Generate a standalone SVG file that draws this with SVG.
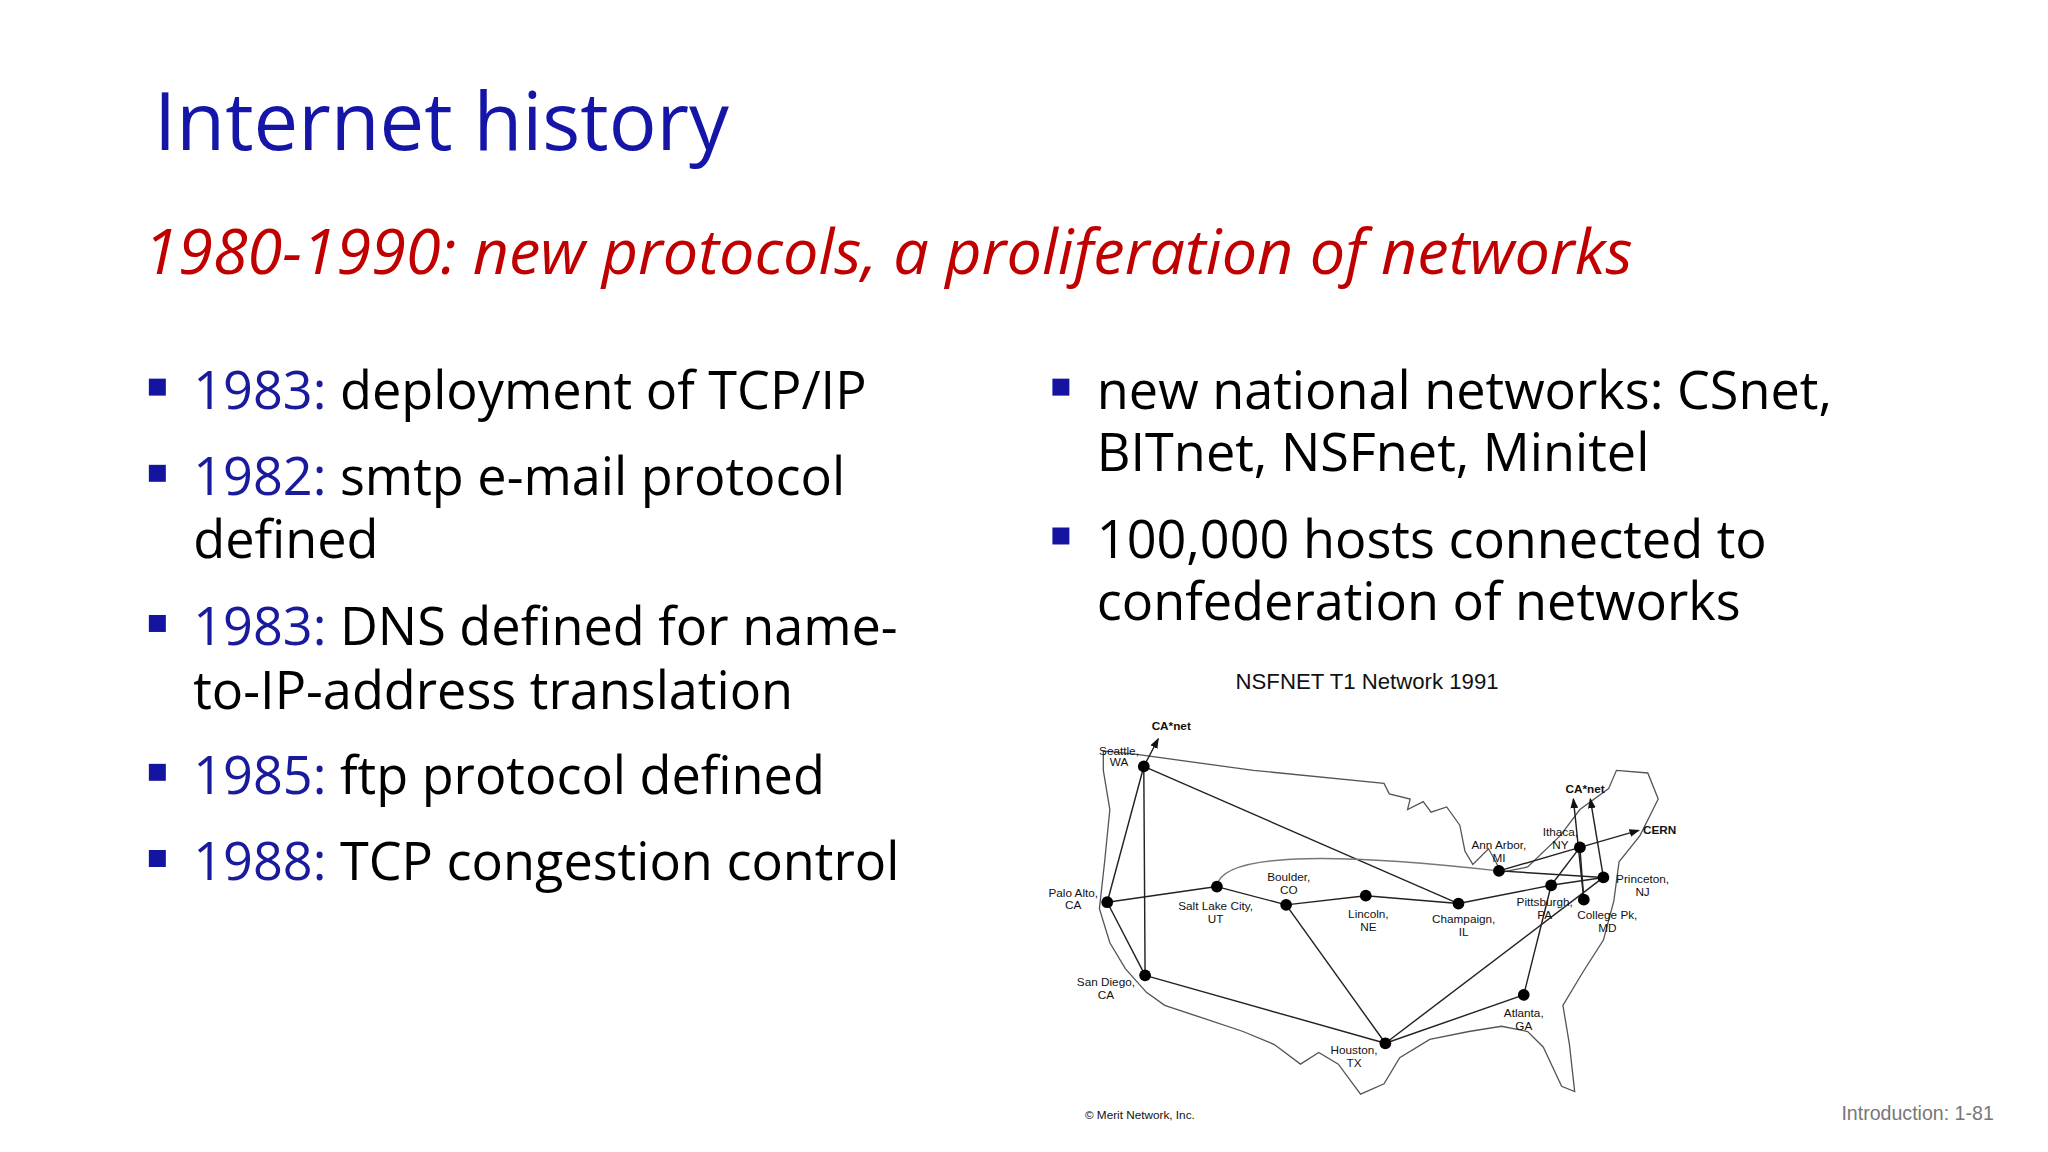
<svg xmlns="http://www.w3.org/2000/svg" width="2048" height="1152" viewBox="0 0 2048 1152">
<style>
.t{font-family:"Open Sans","Liberation Sans",sans-serif}
.b{font-size:40px;fill:#000}
.y{fill:#1a1a9c}
.l{stroke:#222;stroke-width:1.1;fill:none}
.lab{font-family:"Liberation Sans",sans-serif;font-size:9px;fill:#111;text-anchor:middle}
.n{fill:#000}
</style>
<defs><marker id="a" markerWidth="8" markerHeight="8" refX="7" refY="4" orient="auto" markerUnits="userSpaceOnUse"><path d="M0,1 L8,4 L0,7Z" fill="#111"/></marker></defs>
<rect width="2048" height="1152" fill="#fff"/>
<g transform="scale(1.3057)">
<text class="t" x="118" y="115" font-size="61" fill="#1515a8">Internet history</text>
<text class="t" x="110" y="210" font-size="48.2" font-style="italic" fill="#c00000">1980-1990: new protocols, a proliferation of networks</text>
<g fill="#1414a0"><rect x="114" y="290" width="13" height="13"/><rect x="114" y="356" width="13" height="13"/><rect x="114" y="471" width="13" height="13"/><rect x="114" y="585" width="13" height="13"/><rect x="114" y="651" width="13" height="13"/><rect x="806" y="290" width="13" height="13"/><rect x="806" y="404" width="13" height="13"/></g>
<g class="t b">
<text x="148" y="313"><tspan class="y">1983:</tspan> deployment of TCP/IP</text>
<text x="148" y="379"><tspan class="y">1982:</tspan> smtp e-mail protocol</text>
<text x="148" y="427">defined</text>
<text x="148" y="494"><tspan class="y">1983:</tspan> DNS defined for name-</text>
<text x="148" y="543">to-IP-address translation</text>
<text x="148" y="608"><tspan class="y">1985:</tspan> ftp protocol defined</text>
<text x="148" y="674"><tspan class="y">1988:</tspan> TCP congestion control</text>
<text x="840" y="313">new national networks: CSnet,</text>
<text x="840" y="361">BITnet, NSFnet, Minitel</text>
<text x="840" y="427">100,000 hosts connected to</text>
<text x="840" y="475">confederation of networks</text>
</g>
<text x="1527" y="858" font-family="Liberation Sans,sans-serif" font-size="15" fill="#777" text-anchor="end">Introduction: 1-81</text>
<text x="1047" y="528" font-family="Liberation Sans,sans-serif" font-size="17" fill="#111" text-anchor="middle">NSFNET T1 Network 1991</text>
<path id="outline" d="M845,575 L872,578 L960,590 L1060,600 L1064,608 L1080,612 L1078,620 L1090,614 L1096,622 L1108,618 L1118,632 L1122,652 L1128,662 L1140,650 L1150,668 L1170,664 L1195,640 L1210,620 L1232,604 L1238,590 L1262,592 L1270,612 L1256,640 L1240,660 L1236,690 L1228,720 L1212,745 L1197,770 L1202,800 L1206,836 L1196,832 L1182,802 L1170,790 L1150,786 L1125,790 L1095,796 L1072,810 L1060,830 L1042,838 L1025,815 L1010,806 L996,815 L976,800 L952,790 L922,780 L892,770 L878,760 L862,742 L850,722 L842,696 L846,660 L850,620 L845,590 Z" fill="none" stroke="#555" stroke-width="1"/>
<g id="connectors" class="l">
<path d="M876,587 L848,691"/><path d="M876,587 L877,747"/><path d="M876,587 L1117,692"/>
<path d="M848,691 L877,747"/><path d="M848,691 L932,679"/><path d="M932,679 L985,693"/>
<path d="M932,679 C935,650 1040,655 1148,667" stroke="#777"/>
<path d="M985,693 L1046,686"/><path d="M1046,686 L1117,692"/><path d="M985,693 L1061,799"/>
<path d="M877,747 L1061,799"/><path d="M1061,799 L1167,762"/><path d="M1061,799 L1228,672"/>
<path d="M1117,692 L1188,678"/><path d="M1188,678 L1228,672"/><path d="M1167,762 L1188,678"/>
<path d="M1188,678 L1210,649"/><path d="M1148,667 L1210,649"/><path d="M1148,667 L1228,672"/>
<path d="M1210,649 L1213,689"/><path d="M1210,649 L1255,636" marker-end="url(#a)"/>
<path d="M1213,689 L1205,612" marker-end="url(#a)"/><path d="M1228,672 L1218,612" marker-end="url(#a)"/>
<path d="M876,587 L887,566" marker-end="url(#a)"/>
</g>
<g id="nodes" class="n">
<circle cx="876" cy="587" r="4.5"/><circle cx="848" cy="691" r="4.5"/><circle cx="877" cy="747" r="4.5"/>
<circle cx="932" cy="679" r="4.5"/><circle cx="985" cy="693" r="4.5"/><circle cx="1046" cy="686" r="4.5"/>
<circle cx="1117" cy="692" r="4.5"/><circle cx="1061" cy="799" r="4.5"/><circle cx="1167" cy="762" r="4.5"/>
<circle cx="1188" cy="678" r="4.5"/><circle cx="1148" cy="667" r="4.5"/><circle cx="1210" cy="649" r="4.5"/>
<circle cx="1228" cy="672" r="4.5"/><circle cx="1213" cy="689" r="4.5"/>
</g>
<g id="labels">
<text class="lab" x="857" y="578">Seattle,</text><text class="lab" x="857" y="587">WA</text>
<text class="lab" x="822" y="687">Palo Alto,</text><text class="lab" x="822" y="696">CA</text>
<text class="lab" x="847" y="755">San Diego,</text><text class="lab" x="847" y="765">CA</text>
<text class="lab" x="931" y="697">Salt Lake City,</text><text class="lab" x="931" y="707">UT</text>
<text class="lab" x="987" y="675">Boulder,</text><text class="lab" x="987" y="685">CO</text>
<text class="lab" x="1048" y="703">Lincoln,</text><text class="lab" x="1048" y="713">NE</text>
<text class="lab" x="1121" y="707">Champaign,</text><text class="lab" x="1121" y="717">IL</text>
<text class="lab" x="1037" y="807">Houston,</text><text class="lab" x="1037" y="817">TX</text>
<text class="lab" x="1167" y="779">Atlanta,</text><text class="lab" x="1167" y="789">GA</text>
<text class="lab" x="1183" y="694">Pittsburgh,</text><text class="lab" x="1183" y="704">PA</text>
<text class="lab" x="1148" y="650">Ann Arbor,</text><text class="lab" x="1148" y="660">MI</text>
<text class="lab" x="1195" y="640">Ithaca,</text><text class="lab" x="1195" y="650">NY</text>
<text class="lab" x="1258" y="676">Princeton,</text><text class="lab" x="1258" y="686">NJ</text>
<text class="lab" x="1231" y="704">College Pk,</text><text class="lab" x="1231" y="714">MD</text>
<text class="lab" x="897" y="559" font-weight="bold">CA*net</text>
<text class="lab" x="1214" y="607" font-weight="bold">CA*net</text>
<text class="lab" x="1271" y="639" font-weight="bold">CERN</text>
<text class="lab" x="873" y="857" font-size="6">© Merit Network, Inc.</text>
</g>
</g>
</svg>
